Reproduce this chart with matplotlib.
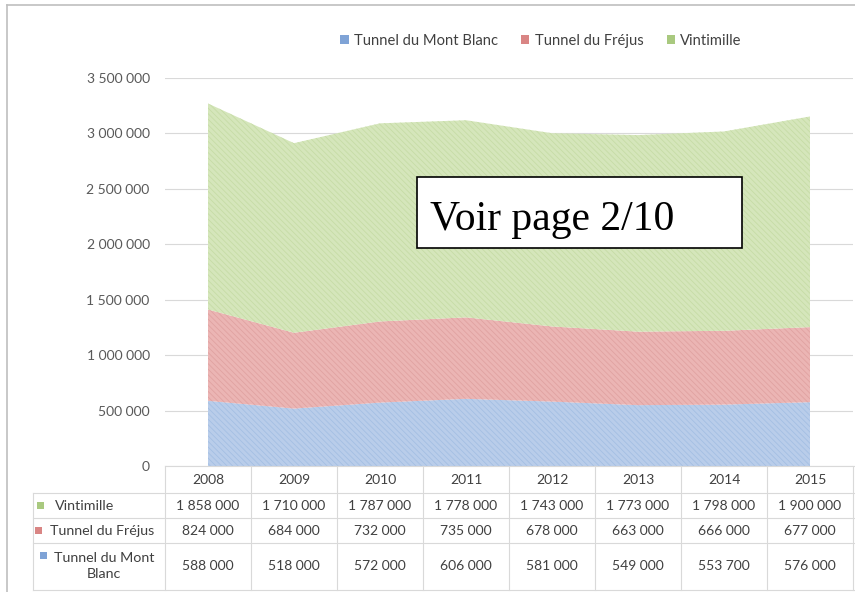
import matplotlib
matplotlib.use('Agg')
import matplotlib.pyplot as plt
import numpy as np
from matplotlib.transforms import blended_transform_factory
from matplotlib.patches import Rectangle
from matplotlib.lines import Line2D

years = ['2008', '2009', '2010', '2011', '2012', '2013', '2014', '2015']
mont_blanc = [588000, 518000, 572000, 606000, 581000, 549000, 553700, 576000]
frejus = [824000, 684000, 732000, 735000, 678000, 663000, 666000, 677000]
vintimille = [1858000, 1710000, 1787000, 1778000, 1743000, 1773000, 1798000, 1900000]
series_names = ['Tunnel du Mont Blanc', 'Tunnel du Fréjus', 'Vintimille']
ytick_values = [0, 500000, 1000000, 1500000, 2000000, 2500000, 3000000, 3500000]
ytick_labels = ['0', '500 000', '1 000 000', '1 500 000', '2 000 000', '2 500 000', '3 000 000', '3 500 000']
note_text = 'Voir page 2/10'

face_colors = ['#b9cdea', '#ebb5b4', '#d5e6bb']
hatch_colors = ['#a4bfe3', '#e0a2a1', '#c6dca6']
marker_colors = ['#7fa3d6', '#d98584', '#a9c97f']

plt.rcParams['font.family'] = ['Lato', 'DejaVu Sans']
plt.rcParams['hatch.linewidth'] = 0.6

W, H = 855, 592
fig = plt.figure(figsize=(W / 100, H / 100), dpi=100)
fig.patch.set_facecolor('white')

def fx(px):
    return px / W

def fy(py):
    return 1 - py / H

ax = fig.add_axes([fx(165), fy(466), fx(853) - fx(165), fy(78) - fy(466)])
x = np.arange(len(years))
ax.set_xlim(-0.5, len(years) - 0.5)
ax.set_ylim(0, 3500000)

layers = [mont_blanc, frejus, vintimille]
base = np.zeros(len(years))
for vals, fc, hc in zip(layers, face_colors, hatch_colors):
    top = base + np.array(vals)
    ax.fill_between(x, base, top, facecolor=fc, edgecolor=hc, hatch='\\' * 6, linewidth=0, zorder=2)
    base = top

ax.set_yticks(ytick_values)
ax.set_yticklabels(ytick_labels)
ax.set_xticks([])
ax.tick_params(axis='y', length=0, pad=11, labelsize=10, labelcolor='#595959')
ax.yaxis.grid(True, color='#d9d9d9', linewidth=0.8, zorder=0)
ax.set_axisbelow(True)
for s in ax.spines.values():
    s.set_visible(False)

# legend
handles = [Rectangle((0, 0), 1, 1, facecolor=c, edgecolor='none') for c in marker_colors]
fig.legend(handles, series_names, loc='center', bbox_to_anchor=(fx(541), fy(41)), ncol=3,
           frameon=False, handlelength=0.55, handleheight=0.55, handletextpad=0.35,
           columnspacing=1.6, fontsize=10.6, labelcolor='#404040')

# outer border
fig.add_artist(Line2D([fx(7), 1], [fy(5), fy(5)], color='#bfbfbf', lw=1.2))
fig.add_artist(Line2D([fx(7), fx(7)], [fy(5), 0], color='#bfbfbf', lw=1.2))

# data table
tr = blended_transform_factory(ax.transData, fig.transFigure)
line_c = '#d9d9d9'
fig.add_artist(Line2D([fx(165), 1], [fy(466), fy(466)], color=line_c, lw=0.8))
for yy in [493, 518, 543, 590]:
    fig.add_artist(Line2D([fx(33), 1], [fy(yy), fy(yy)], color=line_c, lw=0.8))
fig.add_artist(Line2D([fx(33), fx(33)], [fy(493), fy(590)], color=line_c, lw=0.8))
for i in range(len(years) + 1):
    ax.add_artist(Line2D([i - 0.5, i - 0.5], [fy(466), fy(590)], color=line_c, lw=0.8,
                         transform=tr, clip_on=False))

def fmt(v):
    return f'{v:,}'.replace(',', ' ')

row_y = [566, 531, 506]
for i, yr in enumerate(years):
    ax.text(i, fy(480), yr, transform=tr, ha='center', va='center', fontsize=10, color='#404040')
    for vals, ry in zip(layers, row_y):
        ax.text(i, fy(ry), fmt(vals[i]), transform=tr, ha='center', va='center',
                fontsize=10, color='#404040')

# row labels
label_specs = [
    (series_names[2], 55, 506, 'left', 37, 502),
    (series_names[1], 50, 531, 'left', 35, 527),
    ('Tunnel du Mont\nBlanc', 104, 566, 'center', 40, 552),
]
for (lab, lx, ly, ha, mx, my), mc in zip(label_specs, [marker_colors[2], marker_colors[1], marker_colors[0]]):
    fig.text(fx(lx), fy(ly), lab, ha=ha, va='center', multialignment='center',
             fontsize=10.3, color='#404040', linespacing=1.35)
    fig.add_artist(Rectangle((fx(mx), fy(my + 7)), fx(7), 7 / H, facecolor=mc, edgecolor='none'))

# note box
fig.add_artist(Rectangle((fx(417), fy(248)), fx(742) - fx(417), fy(177) - fy(248),
                         facecolor='white', edgecolor='black', lw=1.2, zorder=5))
fig.text(fx(430), fy(230), note_text, ha='left', va='baseline', fontsize=30,
         family='Liberation Serif', color='black', zorder=6)

fig.savefig('out.png', dpi=100)
